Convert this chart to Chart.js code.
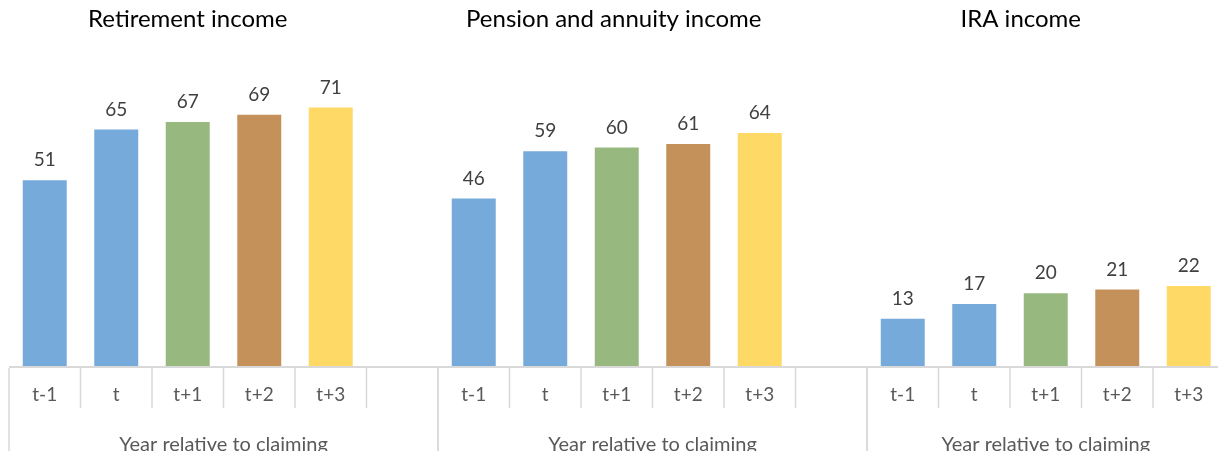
<!DOCTYPE html>
<html>
<head>
<meta charset="utf-8">
<script src="https://cdn.jsdelivr.net/npm/chart.js@4"></script>
<style>
    html, body { margin: 0; padding: 0; background: #fff; overflow: hidden; }
    #wrap { width: 1226px; height: 470px; }
</style>
</head>
<body>
<div id="wrap"><canvas id="incomeChart" width="1226" height="470"></canvas></div>
<script>
// Chart data
const periods = ['t-1', 't', 't+1', 't+2', 't+3'];
const panelTitles = ['Retirement income', 'Pension and annuity income', 'IRA income'];
const axisTitle = 'Year relative to claiming';
const retirementIncome = [51, 65, 67, 69, 71];
const pensionIncome = [46, 59, 60, 61, 64];
const iraIncome = [13, 17, 20, 21, 22];
const periodColors = ['#75AADB', '#75AADB', '#97B980', '#C4915B', '#FFD966'];

// Build one long category axis, with an empty slot between the panels
const panels = [retirementIncome, pensionIncome, iraIncome];
const labels = [];
const values = [];
const colors = [];
panels.forEach((series, p) => {
    series.forEach((v, i) => {
        labels.push(periods[i]);
        values.push(v);
        colors.push(periodColors[i]);
    });
    if (p < panels.length - 1) {
        labels.push('');
        values.push(null);
        colors.push('#fff');
    }
});

const FONT = 'Lato, "Open Sans", sans-serif';
const BASE_Y = 366;
const titleOffsets = [0, -3, -25];

// Draws the two-level category axis, panel titles and value labels
const panelAxisPlugin = {
    id: 'panelAxis',
    afterDraw(chart) {
        const ctx = chart.ctx;
        const x = chart.scales.x;
        const area = chart.chartArea;
        const step = x.getPixelForValue(1) - x.getPixelForValue(0);
        const bottom = chart.height;

        ctx.save();
        // baseline
        ctx.strokeStyle = '#d9d9d9';
        ctx.lineWidth = 2;
        ctx.beginPath();
        ctx.moveTo(area.left, area.bottom + 1);
        ctx.lineTo(area.right, area.bottom + 1);
        ctx.stroke();

        // slot separators and tick labels
        ctx.lineWidth = 1.5;
        let start = 0;
        panels.forEach((series, p) => {
            const slots = p < panels.length - 1 ? series.length + 1 : series.length;
            for (let i = 0; i <= slots; i++) {
                const px = x.getPixelForValue(start + i) - step / 2;
                const tall = i === 0 || i === slots;
                ctx.beginPath();
                ctx.moveTo(px, area.bottom + 2);
                ctx.lineTo(px, tall ? bottom : area.bottom + 42);
                ctx.stroke();
            }
            ctx.fillStyle = '#595959';
            ctx.font = '19px ' + FONT;
            ctx.textAlign = 'center';
            ctx.textBaseline = 'middle';
            series.forEach((v, i) => {
                ctx.fillText(periods[i], x.getPixelForValue(start + i), 395);
            });
            const left = x.getPixelForValue(start) - step / 2;
            const right = x.getPixelForValue(start + slots) - step / 2;
            ctx.font = '20px ' + FONT;
            ctx.fillText(axisTitle, (left + right) / 2, 445);

            // panel title, centred over its bars
            const mid = (x.getPixelForValue(start) + x.getPixelForValue(start + series.length - 1)) / 2;
            ctx.fillStyle = '#000';
            ctx.font = '24px ' + FONT;
            ctx.fillText(panelTitles[p], mid + titleOffsets[p], 19);
            start += slots;
        });

        // value labels above bars
        const meta = chart.getDatasetMeta(0);
        ctx.fillStyle = '#404040';
        ctx.font = '19px ' + FONT;
        meta.data.forEach((bar, i) => {
            if (values[i] == null) return;
            ctx.fillText(values[i], bar.x, bar.y - 20);
        });
        ctx.restore();
    }
};

new Chart(document.getElementById('incomeChart'), {
    type: 'bar',
    data: {
        labels: labels,
        datasets: [{
            data: values,
            backgroundColor: colors,
            borderWidth: 0,
            barPercentage: 0.615,
            categoryPercentage: 1
        }]
    },
    options: {
        responsive: false,
        animation: false,
        layout: { padding: { left: 9, right: 1.5, top: 2, bottom: 470 - BASE_Y } },
        plugins: { legend: { display: false }, tooltip: { enabled: false } },
        scales: {
            x: { display: false },
            y: { display: false, min: 0, max: 100 }
        }
    },
    plugins: [panelAxisPlugin]
});
</script>
</body>
</html>
